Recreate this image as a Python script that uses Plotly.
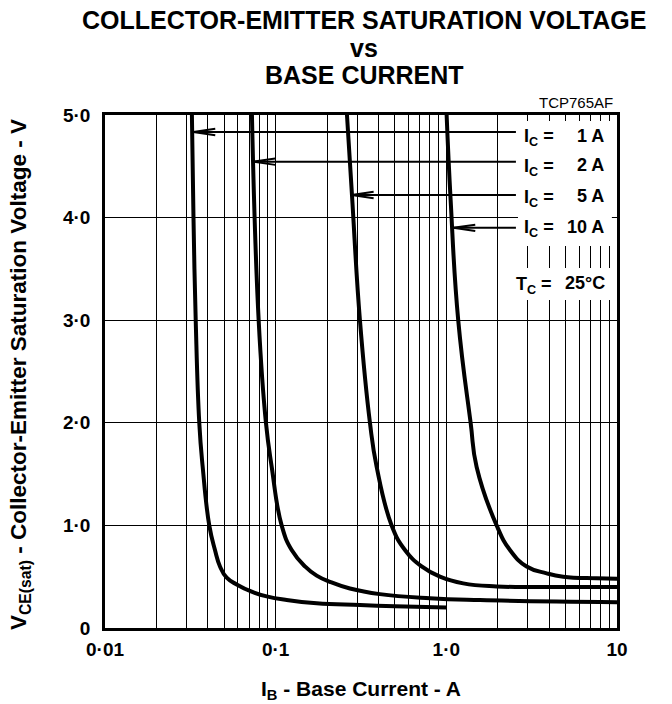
import plotly.graph_objects as go

# ---------------- data ----------------
ib_1a = [0.0323, 0.0330, 0.0340, 0.03568, 0.03736, 0.04083, 0.04409, 0.04718,
         0.05164, 0.05908, 0.07235, 0.08857, 0.1160, 0.1739, 0.3117, 0.50, 1.0]
vce_1a = [5.00, 4.00, 3.00, 2.00, 1.57, 1.00, 0.76, 0.60,
          0.49, 0.425, 0.354, 0.308, 0.273, 0.241, 0.224, 0.212, 0.20]

ib_2a = [0.0726, 0.0795, 0.0877, 0.0948, 0.1084, 0.1241, 0.1485, 0.1739,
         0.2080, 0.2724, 0.408, 0.8017, 1.573, 10.0]
vce_2a = [5.00, 3.00, 2.00, 1.57, 1.00, 0.76, 0.60, 0.51,
          0.45, 0.385, 0.33, 0.29, 0.272, 0.252]

ib_5a = [0.2617, 0.280, 0.3117, 0.3568, 0.3906, 0.4781, 0.5722, 0.7166,
         0.9173, 1.2562, 1.971, 3.089, 10.0]
vce_5a = [5.00, 4.22, 3.00, 2.00, 1.57, 1.00, 0.76, 0.60,
          0.50, 0.435, 0.405, 0.40, 0.40]

ib_10a = [1.004, 1.0598, 1.174, 1.388, 1.505, 1.971, 2.359, 2.954, 3.869, 4.841, 7.596, 10.0]
vce_10a = [5.00, 4.17, 3.00, 2.00, 1.57, 1.00, 0.76, 0.60, 0.533, 0.50, 0.484, 0.48]

ic_values = ["1 A", "2 A", "5 A", "10 A"]
arrow_tip_ib = [0.0329, 0.0739, 0.2787, 1.098]
arrow_vce = [4.834, 4.545, 4.22, 3.90]
arrow_tail_ib = 2.557

x_decades = [0.01, 0.1, 1.0]
x_digits = [1, 2, 3, 4, 5, 6, 7, 8, 9]
x_major_vals = [0.01, 0.1, 1.0, 10]
x_major_labels = ["0·01", "0·1", "1·0", "10"]
y_tick_vals = [0, 1, 2, 3, 4, 5]
y_tick_labels = ["0", "1·0", "2·0", "3·0", "4·0", "5·0"]

FONT = "Liberation Sans, Arial, sans-serif"

# ---------------- figure ----------------
fig = go.Figure()

for xs, ys in [(ib_1a, vce_1a), (ib_2a, vce_2a), (ib_5a, vce_5a), (ib_10a, vce_10a)]:
    fig.add_trace(go.Scatter(x=xs, y=ys, mode="lines",
                             line=dict(color="black", width=4, shape="spline", smoothing=1.3),
                             hoverinfo="skip", showlegend=False))

# arrows (shaft + open chevron head)
head_len = 10 ** (22 / 170.7)
head_half = 3.2 / 102.6
for tip, v in zip(arrow_tip_ib, arrow_vce):
    fig.add_trace(go.Scatter(x=[tip, arrow_tail_ib], y=[v, v], mode="lines",
                             line=dict(color="black", width=2), hoverinfo="skip", showlegend=False))
    fig.add_trace(go.Scatter(x=[tip * head_len, tip, tip * head_len],
                             y=[v + head_half, v, v - head_half], mode="lines",
                             line=dict(color="black", width=2), hoverinfo="skip", showlegend=False))

# tick positions
x_tick_vals = [round(d * k, 4) for d in x_decades for k in x_digits] + [10]
x_tick_text = [x_major_labels[x_major_vals.index(v)] if v in x_major_vals else "" for v in x_tick_vals]

fig.update_xaxes(type="log", range=[-2, 1], tickvals=x_tick_vals, ticktext=x_tick_text,
                 showgrid=True, gridcolor="black", gridwidth=1,
                 showline=True, mirror=True, linecolor="black", linewidth=2.5,
                 ticks="", zeroline=False, ticklabelstandoff=2,
                 tickfont=dict(family=FONT, size=19, color="black", weight="bold"))
fig.update_yaxes(range=[0, 5], tickvals=y_tick_vals, ticktext=y_tick_labels,
                 showgrid=True, gridcolor="black", gridwidth=1,
                 showline=True, mirror=True, linecolor="black", linewidth=2.5,
                 ticks="", zeroline=False, ticklabelstandoff=8,
                 tickfont=dict(family=FONT, size=19, color="black", weight="bold"))

# white label backgrounds
fig.add_shape(type="rect", xref="paper", yref="paper", x0=0.8066, x1=0.990, y0=0.7446, y1=0.9883,
              fillcolor="white", line=dict(width=0), layer="above")
fig.add_shape(type="rect", xref="paper", yref="paper", x0=0.793, x1=0.990, y0=0.6394, y1=0.7018,
              fillcolor="white", line=dict(width=0), layer="above")

ann = []
def txt(text, x, y, size, xanchor="center", yanchor="middle", bold=True, angle=0):
    ann.append(dict(text=text, x=x, y=y, xref="paper", yref="paper", showarrow=False,
                    xanchor=xanchor, yanchor=yanchor, textangle=angle,
                    font=dict(family=FONT, size=size, color="black",
                              weight="bold" if bold else "normal")))

# title
txt("COLLECTOR-EMITTER SATURATION VOLTAGE", 0.506, 1.185, 25)
txt("vs", 0.506, 1.1306, 25)
txt("BASE CURRENT", 0.506, 1.078, 25)
txt("TCP765AF", 0.996, 1.0234, 15, xanchor="right", bold=False)

# axis titles
txt("I<sub>B</sub> - Base Current - A", 0.5, -0.121, 21)
txt("V<sub>CE(sat)</sub> - Collector-Emitter Saturation Voltage - V", -0.166, 0.493, 22.5, angle=-90)

# Ic labels
label_y_left = [0.9552, 0.8986, 0.8382, 0.7778]
label_y_right = [0.9591, 0.9025, 0.8421, 0.7817]
for val, yl, yr in zip(ic_values, label_y_left, label_y_right):
    txt("I<sub>C</sub> =", 0.8145, yl, 18, xanchor="left")
    txt(val, 0.9785, yr, 18, xanchor="right")
txt("T<sub>C</sub> =", 0.7988, 0.6686, 18, xanchor="left")
txt("25°C", 0.9805, 0.6725, 18, xanchor="right")

fig.update_layout(width=672, height=704, margin=dict(l=105, r=55, t=115, b=76),
                  paper_bgcolor="white", plot_bgcolor="white", annotations=ann,
                  showlegend=False)

fig.write_html("out.html")
